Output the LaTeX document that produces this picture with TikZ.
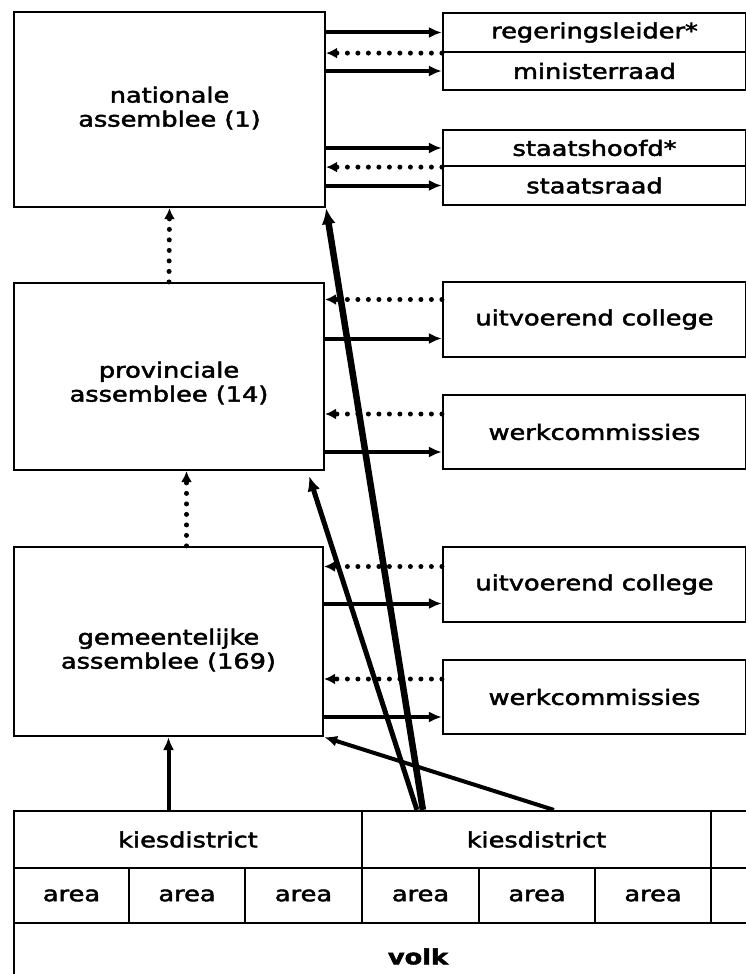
\documentclass[tikz,border=0pt]{standalone}
\usepackage{fontspec}
\setmainfont{DejaVu Sans}[FakeBold=2]
\usepackage{graphicx}
\usetikzlibrary{arrows.meta,calc}
\newcommand{\wt}[1]{\scalebox{1.22}[1]{#1}}
\begin{document}
\begin{tikzpicture}[x=1pt,y=-1pt,
  box/.style={draw, line width=2.2pt, inner sep=0pt, font=\fontsize{21}{24}\selectfont, align=center},
  lbl/.style={inner sep=0pt, font=\fontsize{21}{24}\selectfont, align=center},
  solidarr/.style={line width=4pt, -{Latex[length=13pt,width=11pt]}},
  dotarr/.style={line width=5pt, dash pattern=on 0pt off 10.5pt, line cap=round, -{Latex[length=11pt,width=11pt]}},
  longA/.style={line width=6.5pt, -{Latex[length=16pt,width=14pt]}},
  longB/.style={line width=5pt, -{Latex[length=15pt,width=13pt]}},
  longC/.style={line width=4pt, -{Latex[length=13pt,width=11pt]}}]
\useasboundingbox (0,0) rectangle (746,974);
% assemblies
\node[box, minimum width=311pt, minimum height=195pt] (nat) at (169.5,109.5) {};
\node[lbl] (natt) at (169.5,108) {\wt{nationale}\\\wt{assemblee (1)}};
\node[box, minimum width=310pt, minimum height=187pt] (prov) at (169,376.5) {};
\node[lbl] (provt) at (169,383) {\wt{provinciale}\\\wt{assemblee (14)}};
\node[box, minimum width=309pt, minimum height=189pt] (gem) at (168.5,641.5) {};
\node[lbl] (gemt) at (168.5,650) {\wt{gemeentelijke}\\\wt{assemblee (169)}};
% right boxes
\node[box, minimum width=303pt, minimum height=39pt] (rl) at (594.5,32.5) {\wt{regeringsleider*}};
\node[box, minimum width=303pt, minimum height=38pt] (mr) at (594.5,71) {\wt{ministerraad}};
\node[box, minimum width=303pt, minimum height=36pt] (sh) at (594.5,148) {\wt{staatshoofd*}};
\node[box, minimum width=303pt, minimum height=39pt] (sr) at (594.5,185.5) {\wt{staatsraad}};
\node[box, minimum width=303pt, minimum height=75pt] (uc1) at (594.5,319.5) {\wt{uitvoerend college}};
\node[box, minimum width=303pt, minimum height=74pt] (wc1) at (594.5,432) {\wt{werkcommissies}};
\node[box, minimum width=303pt, minimum height=75pt] (uc2) at (594.5,584.5) {\wt{uitvoerend college}};
\node[box, minimum width=303pt, minimum height=74pt] (wc2) at (594.5,697) {\wt{werkcommissies}};
% bottom table
\node[box, minimum width=348pt, minimum height=57pt] (kd1) at (188,839.5) {\wt{kiesdistrict}};
\node[box, minimum width=349pt, minimum height=57pt] (kd2) at (536.5,839.5) {\wt{kiesdistrict}};
\node[box, minimum width=59pt, minimum height=57pt] (kd3) at (740.5,839.5) {};
\node[box, minimum width=115pt, minimum height=55pt] (a1) at (71.5,895.5) {\wt{area}};
\node[box, minimum width=116pt, minimum height=55pt] (a2) at (187,895.5) {\wt{area}};
\node[box, minimum width=117pt, minimum height=55pt] (a3) at (303.5,895.5) {\wt{area}};
\node[box, minimum width=117pt, minimum height=55pt] (a4) at (420.5,895.5) {\wt{area}};
\node[box, minimum width=116pt, minimum height=55pt] (a5) at (537,895.5) {\wt{area}};
\node[box, minimum width=116pt, minimum height=55pt] (a6) at (653,895.5) {\wt{area}};
\node[box, minimum width=59pt, minimum height=55pt] (a7) at (740.5,895.5) {};
\node[box, minimum width=808pt, minimum height=67pt, font=\bfseries\fontsize{21}{24}\selectfont] (volk) at (418,956.5) {\wt{volk}};
% national level connectors
\draw[solidarr] (rl.west -| nat.east) -- (rl.west);
\draw[dotarr] (rl.south west) -- (rl.south west -| nat.east);
\draw[solidarr] (mr.west -| nat.east) -- (mr.west);
\draw[solidarr] (sh.west -| nat.east) -- (sh.west);
\draw[dotarr] (sh.south west) -- (sh.south west -| nat.east);
\draw[solidarr] (sr.west -| nat.east) -- (sr.west);
% provincial level
\coordinate (u1d) at ($(uc1.west)+(0,-20)$);
\coordinate (u1s) at ($(uc1.west)+(0,19)$);
\coordinate (w1d) at ($(wc1.west)+(0,-18)$);
\coordinate (w1s) at ($(wc1.west)+(0,20)$);
\draw[dotarr] (u1d) -- (u1d -| prov.east);
\draw[solidarr] (u1s -| prov.east) -- (u1s);
\draw[dotarr] (w1d) -- (w1d -| prov.east);
\draw[solidarr] (w1s -| prov.east) -- (w1s);
% municipal level
\coordinate (u2d) at ($(uc2.west)+(0,-18)$);
\coordinate (u2s) at ($(uc2.west)+(0,19)$);
\coordinate (w2d) at ($(wc2.west)+(0,-18)$);
\coordinate (w2s) at ($(wc2.west)+(0,20)$);
\draw[dotarr] (u2d) -- (u2d -| gem.east);
\draw[solidarr] (u2s -| gem.east) -- (u2s);
\draw[dotarr] (w2d) -- (w2d -| gem.east);
\draw[solidarr] (w2s -| gem.east) -- (w2s);
% vertical links
\draw[dotarr] (prov.north) -- (nat.south);
\coordinate (g1) at ($(gem.north)+(18,0)$);
\draw[dotarr] (g1) -- (g1 |- prov.south);
\draw[solidarr] (gem.south |- kd1.north) -- (gem.south);
% long links from the electoral district
\coordinate (s1) at ($(kd2.north west)+(62,0)$);
\coordinate (s2) at ($(kd2.north west)+(56,0)$);
\coordinate (s3) at ($(kd2.north west)+(193,0)$);
\coordinate (t2) at ($(prov.south east)+(-16,5)$);
\draw[longA] (s1) -- (nat.south east);
\draw[longB] (s2) -- (t2);
\draw[longC] (s3) -- (gem.south east);
\end{tikzpicture}
\end{document}
